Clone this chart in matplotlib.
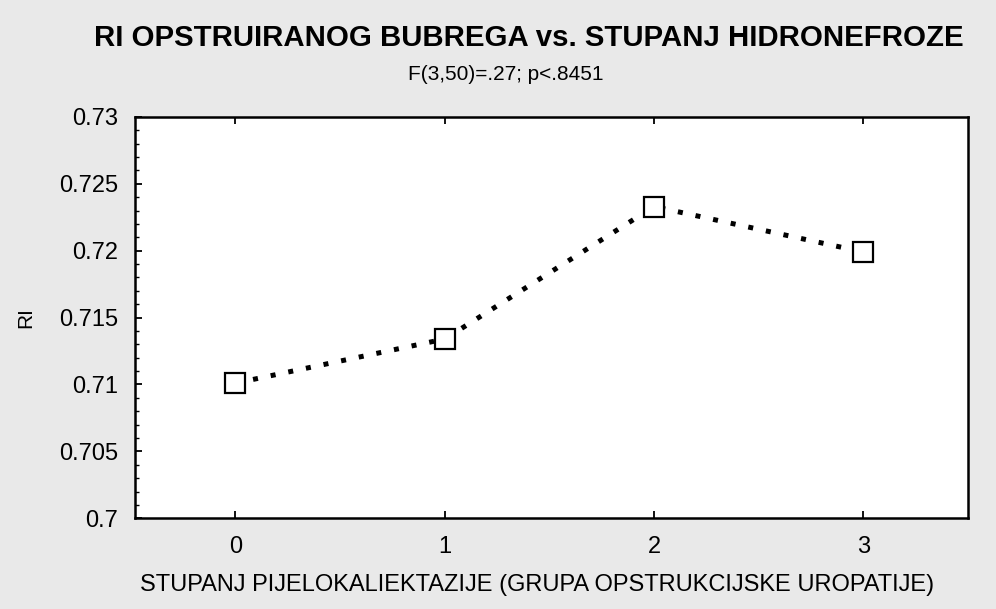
import matplotlib.pyplot as plt
from matplotlib.ticker import MultipleLocator

groups = [0, 1, 2, 3]
ri_means = [0.7101, 0.7134, 0.7233, 0.7199]
y_ticks = [0.7, 0.705, 0.71, 0.715, 0.72, 0.725, 0.73]
y_tick_labels = ['0.7', '0.705', '0.71', '0.715', '0.72', '0.725', '0.73']

plt.rcParams['font.family'] = ['Liberation Sans', 'DejaVu Sans']

BG = '#e9e9e9'
fig = plt.figure(figsize=(9.96, 6.09), dpi=100, facecolor=BG)
ax = fig.add_axes([0.1355, 0.149, 0.8365, 0.659])

ax.plot(groups, ri_means, color='black', linestyle=(0, (1, 2.6)), linewidth=3.6,
        marker='s', markersize=14, markerfacecolor='white', markeredgecolor='black',
        markeredgewidth=1.6, zorder=3)

ax.set_xlim(-0.48, 3.5)
ax.set_ylim(0.7, 0.73)
ax.set_xticks(groups)
ax.set_xticklabels([str(g) for g in groups])
ax.set_yticks(y_ticks)
ax.set_yticklabels(y_tick_labels)
ax.yaxis.set_minor_locator(MultipleLocator(0.001))

ax.tick_params(axis='both', which='major', direction='in', length=5, width=1.3,
               top=True, right=False, labelsize=17, pad=12)
ax.tick_params(axis='y', which='minor', direction='in', length=3, width=1.0)
ax.tick_params(axis='x', pad=13)
for s in ax.spines.values():
    s.set_linewidth(1.8)
    s.set_color('black')

ax.set_xlabel('STUPANJ PIJELOKALIEKTAZIJE (GRUPA OPSTRUKCIJSKE UROPATIJE)', fontsize=17)
ax.xaxis.set_label_coords(0.4826, -0.14)
ax.set_ylabel('RI', fontsize=15)
ax.yaxis.set_label_coords(-0.12, 0.5)

fig.text(0.531, 0.937, 'RI OPSTRUIRANOG BUBREGA vs. STUPANJ HIDRONEFROZE',
         ha='center', va='center', fontsize=21.2, fontweight='bold')
fig.text(0.508, 0.877, 'F(3,50)=.27; p<.8451', ha='center', va='center', fontsize=15)

fig.savefig('out.png', dpi=100, facecolor=BG)
